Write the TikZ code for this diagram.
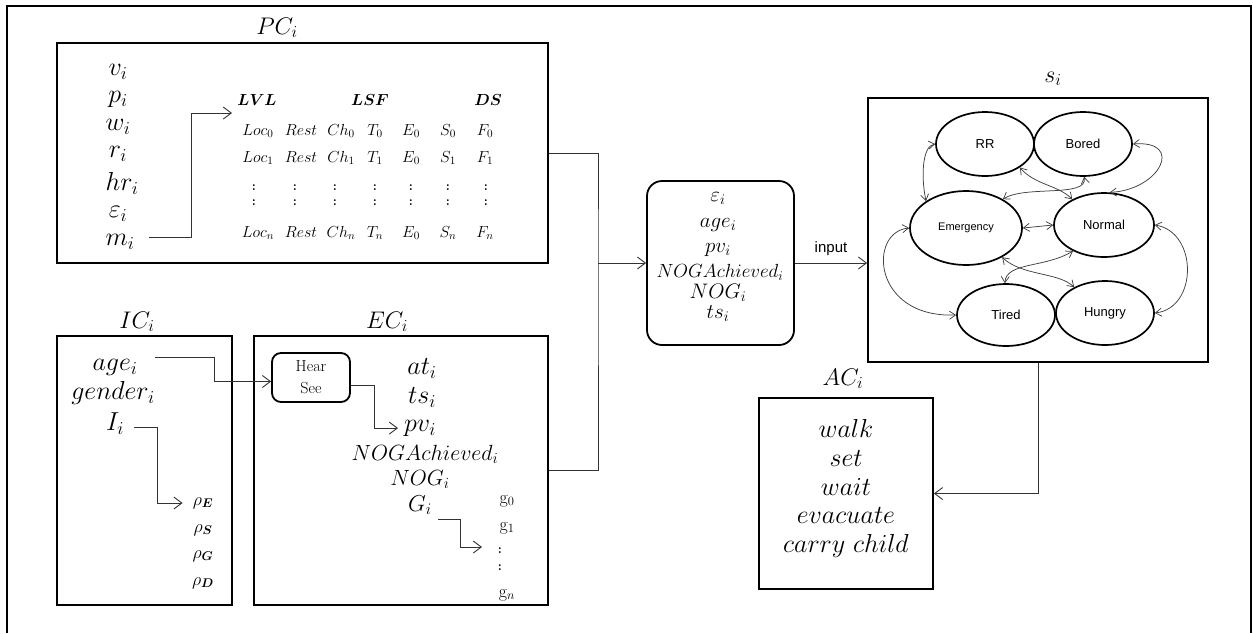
\RequirePackage{fix-cm}
\documentclass[tikz,border=0pt]{standalone}
\usepackage{bm}
\usepackage{fontspec}
\newfontfamily\sansf{Liberation Sans}
\usetikzlibrary{arrows.meta,shapes.geometric}

\tikzset{
  box/.style={draw, line width=1.8pt, inner sep=0pt},
  rbox/.style={box, rounded corners=15pt},
  v/.style={inner sep=0pt, anchor=mid, font=\fontsize{26}{26}\selectfont},
  vm/.style={inner sep=0pt, anchor=mid, font=\fontsize{21}{21}\selectfont},
  hdr/.style={inner sep=0pt, anchor=base, font=\fontsize{24}{24}\selectfont},
  tab/.style={inner sep=0pt, anchor=mid, font=\fontsize{16}{16}\selectfont},
  tdot/.style={inner sep=0pt, anchor=mid, font=\fontsize{13}{13}\selectfont\bfseries},
  gsub/.style={inner sep=0pt, anchor=mid, font=\fontsize{18}{18}\selectfont},
  conn/.style={draw=black!80, line width=0.9pt},
  arr/.style={conn, -{Straight Barb[length=8pt,width=12pt]}},
  st/.style={ellipse, draw, line width=1.7pt, inner sep=0pt,
             font=\sansf\fontsize{13}{13}\selectfont},
  tr/.style={draw=black!75, line width=0.75pt,
             {Straight Barb[length=6pt,width=8pt]}-{Straight Barb[length=6pt,width=8pt]}},
}

\begin{document}
\begin{tikzpicture}[x=1pt,y=-1pt]
\useasboundingbox (0,0) rectangle (1253,633);

% outer frame
\draw[line width=1.8pt] (7,633) -- (7,6) -- (1251,6) -- (1251,633);

% ---------- PC ----------
\node[box, minimum width=491pt, minimum height=220pt] (PC) at (302.5,153) {};
\node[hdr] (PCl) at (277,34) {$PC_i$};
\node[v] (vi) at (118,73) {$v_i$};
\node[v] (pi) at (118,100) {$p_i$};
\node[v] (wi) at (118,128) {$w_i$};
\node[v] (ri) at (118,155) {$r_i$};
\node[v] (hri) at (122,188) {$hr_i$};
\node[v] (epsi) at (118,215) {$\varepsilon_i$};
\node[v] (mi) at (120,243) {$m_i$};

\node[tab] (hLVL) at (257,103) {$\bm{LVL}$};
\node[tab] (hLSF) at (370,103) {$\bm{LSF}$};
\node[tab] (hDS) at (488,103) {$\bm{DS}$};

\foreach \r/\y/\s/\e in {0/133/0/0, 1/160/1/0, n/235/n/0}{
  \node[tab] (L\r) at (258,\y) {$Loc_{\s}$};
  \node[tab] (R\r) at (301,\y) {$Rest$};
  \node[tab] (C\r) at (341,\y) {$Ch_{\s}$};
  \node[tab] (T\r) at (375,\y) {$T_{\s}$};
  \node[tab] (E\r) at (411,\y) {$E_{\e}$};
  \node[tab] (S\r) at (448,\y) {$S_{\s}$};
  \node[tab] (F\r) at (485,\y) {$F_{\s}$};
}
\foreach \k/\y in {a/188, b/203}{
  \foreach \c/\x in {1/254, 2/295, 3/335, 4/375, 5/411, 6/448, 7/486}{
    \node[tdot] (dot\k\c) at (\x,\y) {:};
  }
}
\coordinate (mout) at (149,237);
\coordinate (tin) at (232,113);
\draw[arr] (mout) -- ++(42,0) |- (tin);

% ---------- IC ----------
\node[box, minimum width=175pt, minimum height=269pt] (IC) at (144.5,470.5) {};
\node[hdr] (ICl) at (137,328) {$IC_i$};
\node[v] (agei) at (115,368) {$age_i$};
\node[v] (genderi) at (113,397) {$gender_i$};
\node[v] (Ii) at (115,428) {$I_i$};
\node[gsub] (rE) at (203,503) {$\rho_{\bm E}$};
\node[gsub] (rS) at (203,530) {$\rho_{\bm S}$};
\node[gsub] (rG) at (203,556) {$\rho_{\bm G}$};
\node[gsub] (rD) at (203,583) {$\rho_{\bm D}$};
\coordinate (Iout) at (134,427);
\draw[arr] (Iout) -- ++(23,0) |- ([xshift=-10pt]rE.west);

% ---------- EC ----------
\node[box, minimum width=294pt, minimum height=269pt] (EC) at (401,470.5) {};
\node[hdr] (ECl) at (387,328) {$EC_i$};
\node[box, rounded corners=9pt, minimum width=78pt, minimum height=49pt,
      align=center, font=\fontsize{16}{22}\selectfont] (HS) at (311,377.5) {Hear\\See};
\coordinate (ageout) at (155,357);
\draw[arr] (ageout) -- ++(59,0) |- ([yshift=-4pt]HS.west);

\node[v] (ati) at (422,372) {$at_i$};
\node[v] (tsi) at (422,401) {$ts_i$};
\node[v] (pvi) at (420,429) {$pv_i$};
\node[v, font=\fontsize{22}{22}\selectfont] (NOGAi) at (425,458) {$NOGAchieved_i$};
\node[v, font=\fontsize{22}{22}\selectfont] (NOGi) at (420,483) {$NOG_i$};
\node[v, font=\fontsize{23}{23}\selectfont] (Gi) at (420,509) {$G_i$};
\draw[arr] ([yshift=-8pt]HS.east) -- ++(24,0) |- ([xshift=-6pt]pvi.west);

\node[gsub] (g0) at (507,501) {$\mathrm{g}_0$};
\node[gsub] (g1) at (507,528) {$\mathrm{g}_1$};
\node[tdot] (gd1) at (500,551) {:};
\node[tdot] (gd2) at (500,568) {:};
\node[gsub] (gn) at (507,595) {$\mathrm{g}_n$};
\coordinate (Gout) at (438,519);
\coordinate (gin) at (482,547);
\draw[arr] (Gout) -- ++(22,0) |- (gin);

% ---------- merge into the middle box ----------
\node[rbox, minimum width=147pt, minimum height=164pt] (M) at (720.5,263) {};
\node[vm] (m1) at (718,199) {$\varepsilon_i$};
\node[vm] (m2) at (718,225) {$age_i$};
\node[vm] (m3) at (718,250) {$pv_i$};
\node[vm, font=\fontsize{19}{19}\selectfont] (m4) at (720,275) {$NOGAchieved_i$};
\node[vm] (m5) at (718,296) {$NOG_i$};
\node[vm] (m6) at (718,316) {$ts_i$};

\coordinate (j) at (598,263);
\draw[conn] (PC.east) -| (j) |- (EC.east);
\draw[arr] (j) -- (M.west);

% ---------- state machine ----------
\node[box, minimum width=340pt, minimum height=264pt] (S) at (1038,230) {};
\node[hdr] (Sl) at (1053,82) {$s_i$};
\draw[arr] (M.east) -- (M.east -| S.west)
  node[midway, above=7pt, inner sep=0pt, font=\sansf\fontsize{15}{15}\selectfont] (inp) {input};

\node[st, minimum width=98pt, minimum height=64pt] (RR) at (985,144) {RR};
\node[st, minimum width=98pt, minimum height=64pt] (Bo) at (1083,144) {Bored};
\node[st, minimum width=112pt, minimum height=74pt, font=\sansf\fontsize{11}{11}\selectfont] (Em) at (966,228) {Emergency};
\node[st, minimum width=100pt, minimum height=64pt] (No) at (1104,225) {Normal};
\node[st, minimum width=98pt, minimum height=62pt] (Ti) at (1006,315) {Tired};
\node[st, minimum width=98pt, minimum height=64pt] (Hu) at (1105,313) {Hungry};

\draw[tr] (Em.146) .. controls (921,178) and (922,146) .. (RR.west);
\draw[tr] (Bo.east) .. controls (1185,140) and (1160,190) .. (No.80);
\draw[tr] (RR.-34) .. controls (1035,185) and (1058,185) .. (No.141);
\draw[tr] (Em.38) .. controls (1025,185) and (1088,198) .. (Bo.-88);
\draw[tr] (Em.east) -- (No.west);
\draw[tr] (Em.west) .. controls (868,232) and (872,318) .. (Ti.west);
\draw[tr] (No.east) .. controls (1198,232) and (1198,308) .. (Hu.east);
\draw[tr] (No.220) .. controls (1045,268) and (1006,262) .. (Ti.92);
\draw[tr] (Em.-39) .. controls (1022,276) and (1058,272) .. (Hu.140);

% ---------- actions ----------
\node[box, minimum width=174pt, minimum height=191pt] (AC) at (846,493.5) {};
\node[hdr] (ACl) at (843,385) {$AC_i$};
\node[v] (a1) at (846,435) {$walk$};
\node[v] (a2) at (846,464) {$set$};
\node[v] (a3) at (846,493) {$wait$};
\node[v] (a4) at (846,521) {$evacuate$};
\node[v] (a5) at (846,550) {$carry\ child$};
\draw[arr] (S.south) |- (AC.east);

\end{tikzpicture}
\end{document}
